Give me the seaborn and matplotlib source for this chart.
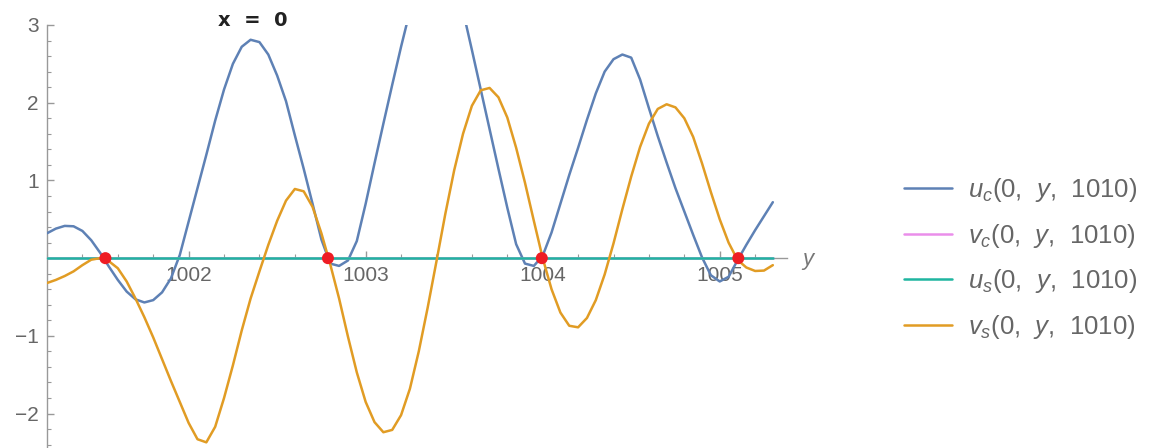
import numpy as np
import seaborn as sns
import matplotlib.pyplot as plt
from matplotlib.ticker import FixedLocator, MultipleLocator

# sample positions along y (x = 0, t = 1010)
y_vals = np.round(np.arange(1001.20, 1005.301, 0.05), 2)

u_c = [0.32, 0.38, 0.415, 0.41, 0.35, 0.23, 0.07, -0.11, -0.28, -0.43,
       -0.53, -0.57, -0.54, -0.44, -0.26, 0.04,
       0.47, 0.90, 1.33, 1.77, 2.17, 2.50, 2.72, 2.81, 2.78, 2.62,
       2.35, 2.02, 1.58, 1.15, 0.70, 0.24, -0.07, -0.10, -0.03, 0.22,
       0.70, 1.22, 1.73, 2.23, 2.72, 3.18, 3.55, 3.78, 3.85, 3.75,
       3.52, 3.18, 2.68, 2.17, 1.66, 1.15, 0.65, 0.18, -0.07, -0.10,
       0.03, 0.33, 0.70, 1.07, 1.42, 1.78, 2.12, 2.40, 2.56, 2.62,
       2.58, 2.30, 1.93, 1.57, 1.23, 0.90, 0.60, 0.30, 0.01, -0.22,
       -0.30, -0.24, -0.03, 0.17, 0.36, 0.54, 0.72]
v_c = [0.0] * len(y_vals)
u_s = [0.0] * len(y_vals)
v_s = [-0.32, -0.28, -0.23, -0.17, -0.09, -0.02, 0.00, -0.04, -0.13, -0.30,
       -0.52, -0.76, -1.02, -1.30, -1.58, -1.85,
       -2.12, -2.33, -2.37, -2.17, -1.80, -1.38, -0.93, -0.52, -0.17, 0.17,
       0.48, 0.74, 0.89, 0.86, 0.66, 0.32, -0.08, -0.52, -1.01, -1.47,
       -1.85, -2.11, -2.24, -2.21, -2.02, -1.68, -1.20, -0.64, -0.04, 0.57,
       1.13, 1.60, 1.96, 2.16, 2.19, 2.07, 1.81, 1.42, 0.97, 0.48,
       0.00, -0.40, -0.70, -0.87, -0.89, -0.77, -0.54, -0.21, 0.19, 0.63,
       1.05, 1.43, 1.73, 1.92, 1.98, 1.94, 1.80, 1.56, 1.22, 0.85,
       0.50, 0.20, -0.02, -0.12, -0.165, -0.16, -0.09]

# common zeros marked in red
zero_y = [1001.53, 1002.787, 1003.995, 1005.105]
zero_val = [0.0, 0.0, 0.0, 0.0]

labels = [r"$u_c$(0,  $y$,  1010)", r"$v_c$(0,  $y$,  1010)",
          r"$u_s$(0,  $y$,  1010)", r"$v_s$(0,  $y$,  1010)"]
colors = ["#5e81b5", "#ea8eea", "#1fb5a0", "#e19c24"]

sns.set_theme(style="white")
plt.rcParams["font.family"] = ["Liberation Sans", "DejaVu Sans"]
plt.rcParams["mathtext.fontset"] = "custom"
plt.rcParams["mathtext.rm"] = "Liberation Sans"
plt.rcParams["mathtext.it"] = "Liberation Sans:italic"

fig = plt.figure(figsize=(11.57, 4.48), dpi=100)
ax = fig.add_axes([47 / 1157, 1 / 448, 740 / 1157, 422 / 448])

for vals, lab, col in zip([u_c, v_c, u_s, v_s], labels, colors):
    sns.lineplot(x=y_vals, y=vals, ax=ax, color=col, lw=1.8, label=lab,
                 zorder=3)

sns.scatterplot(x=zero_y, y=zero_val, ax=ax, color="#ee1c24", s=75,
                edgecolor="none", zorder=5, legend=False)

ax.set_xlim(1001.2, 1005.38)
ax.set_ylim(-2.43, 3.0)

for side in ["top", "right"]:
    ax.spines[side].set_visible(False)
ax.spines["bottom"].set_position(("data", 0))
for side in ["left", "bottom"]:
    ax.spines[side].set_color("#999999")
    ax.spines[side].set_linewidth(1.0)
    ax.spines[side].set_zorder(1)

ax.xaxis.set_major_locator(FixedLocator([1002, 1003, 1004, 1005]))
ax.xaxis.set_minor_locator(MultipleLocator(0.2))
ax.set_xticklabels(["1002", "1003", "1004", "1005"])
ax.yaxis.set_major_locator(FixedLocator([-2, -1, 1, 2, 3]))
ax.yaxis.set_minor_locator(MultipleLocator(0.2))
ax.set_yticklabels(["\u22122", "\u22121", "1", "2", "3"])

ax.tick_params(axis="both", which="both", direction="in", colors="#999999",
               labelcolor="#666666", labelsize=15, bottom=True, left=True)
ax.tick_params(axis="both", which="major", length=5, width=1)
ax.tick_params(axis="both", which="minor", length=3, width=0.8)
ax.tick_params(axis="x", pad=6)
ax.tick_params(axis="y", pad=6)
ax.set_xlabel("")
ax.set_ylabel("")

handles, labs = ax.get_legend_handles_labels()
ax.get_legend().remove()
fig.legend(handles, labs, loc="center left",
           bbox_to_anchor=(904 / 1157, (448 - 258.4) / 448),
           frameon=False, fontsize=18.5, labelcolor="#666666",
           handlelength=1.87, handletextpad=0.62, labelspacing=0.68,
           borderpad=0, borderaxespad=0)

fig.text(253 / 1157, 1 - 20.3 / 448, "x  =  0", ha="center", va="center",
         fontsize=14, fontweight="bold", color="#222222", family="DejaVu Sans")
fig.text(808 / 1157, 1 - 259 / 448, "y", ha="center", va="center",
         fontsize=16, style="italic", color="#777777")

fig.savefig("out.png", dpi=100)
